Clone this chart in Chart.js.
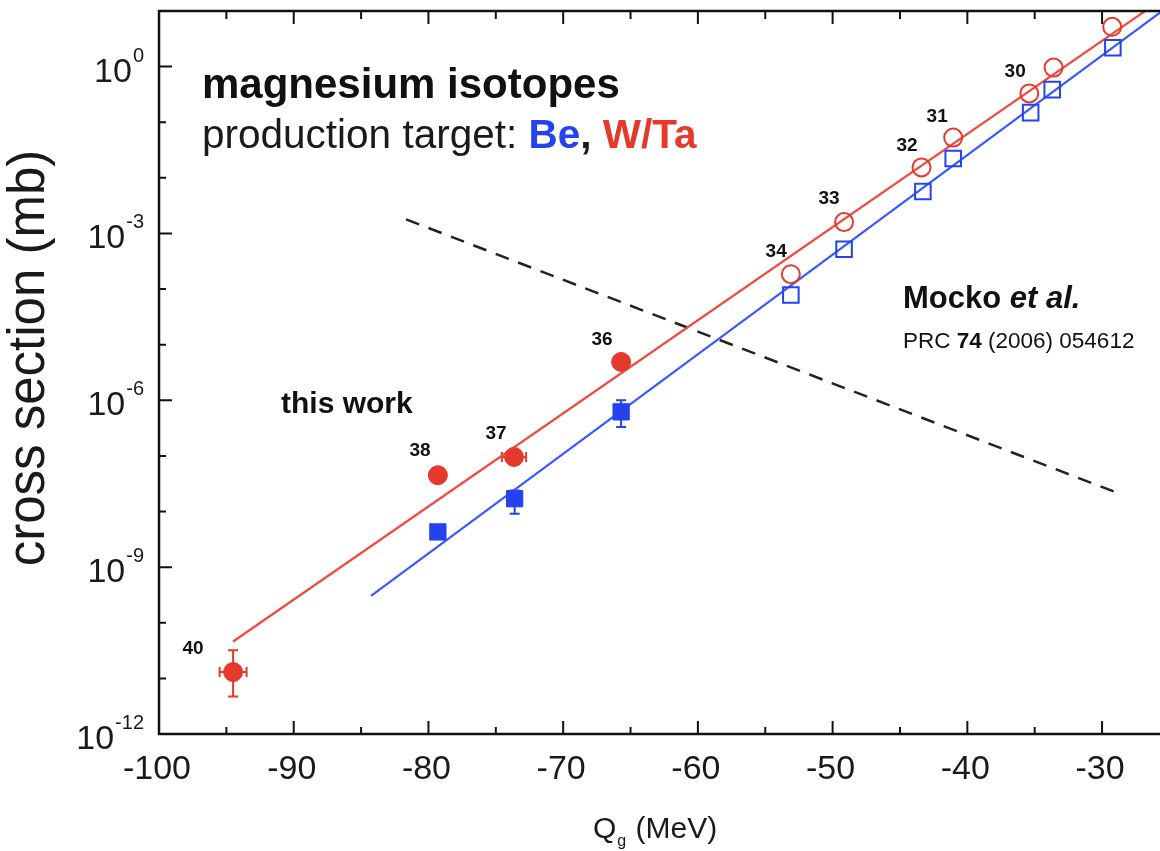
<!DOCTYPE html>
<html>
<head>
<meta charset="utf-8">
<script src="https://cdn.jsdelivr.net/npm/chart.js@4.4.1/dist/chart.umd.min.js"></script>
<style>
  html, body { margin: 0; padding: 0; background: #ffffff; }
  #wrap { width: 1160px; height: 851px; }
</style>
</head>
<body>
<div id="wrap"><canvas id="c" width="1160" height="851"></canvas></div>
<script>
// ---------------- data ----------------
// Mocko et al. (open symbols)
const qMockoWTa = [-29.25, -33.6, -35.4, -41.05, -43.4, -49.15, -53.1];
const sMockoWTa = [5.2, 0.96, 0.33, 0.053, 0.0154, 1.6e-3, 1.85e-4];
const qMockoBe  = [-29.2, -33.7, -35.3, -41.05, -43.3, -49.15, -53.1];
const sMockoBe  = [2.19, 0.386, 0.149, 0.0223, 5.7e-3, 5.2e-4, 7.8e-5];

// this work (filled symbols)
const qThisWTa   = [-65.7, -73.65, -79.3, -94.5];
const sThisWTa   = [4.9e-6, 9.6e-8, 4.5e-8, 1.3e-11];
const yLoThisWTa = [null, null, null, 4.7e-12];
const yHiThisWTa = [null, null, null, 3.2e-11];
const xErrThisWTa = [0, 0.9, 0, 1.0];

const qThisBe   = [-65.7, -73.6, -79.3];
const sThisBe   = [6.2e-7, 1.7e-8, 4.3e-9];
const yLoThisBe = [3.3e-7, 9.1e-9, null];
const yHiThisBe = [1.0e-6, 2.4e-8, null];

// systematics (fit lines) and Mocko trend (dashed)
const qFitWTa = [-94.5, -25];
const sFitWTa = [4.6e-11, 20];
const qFitBe  = [-84.26, -25];
const sFitBe  = [3.05e-10, 12.5];
const qTrend  = [-81.66, -28.66];
const sTrend  = [1.79e-3, 2.07e-8];

// isotope mass-number labels (anchor in data coordinates)
const isoMass = ['40', '38', '37', '36', '34', '33', '32', '31', '30'];
const isoQ    = [-97.48, -80.62, -74.98, -67.11, -54.19, -50.26, -44.47, -42.24, -36.45];
const isoLogS = [-10.557, -7.002, -6.697, -5.009, -3.429, -2.478, -1.526, -0.987, -0.180];

// axis ticks
const xMajorTicks = [-100, -90, -80, -70, -60, -50, -40, -30];
const xTickLabels = ['-100', '-90', '-80', '-70', '-60', '-50', '-40', '-30'];
const xMinorTicks = [-95, -85, -75, -65, -55, -45, -35];
const yMajorExps  = [0, -3, -6, -9, -12];
const yMinorExps  = [1, -1, -2, -4, -5, -7, -8, -10, -11];

// ---------------- styles ----------------
const RED = '#e5392b';
const BLUE = '#2443ef';
const RED_LINE = '#ef4a3f';
const BLUE_LINE = '#3a58ff';
const FONT = '"Liberation Sans", Arial, Helvetica, sans-serif';

const pts = (xs, ys) => xs.map((x, i) => ({ x: x, y: ys[i] }));

// ---------------- custom drawing plugin ----------------
const decor = {
  id: 'decor',
  beforeDatasetsDraw(chart) {
    const ctx = chart.ctx, xs = chart.scales.x, ys = chart.scales.y;
    const drawErr = (q, s, lo, hi, xe, color) => {
      ctx.save();
      ctx.strokeStyle = color;
      ctx.lineWidth = 2;
      const cap = 5;
      for (let i = 0; i < q.length; i++) {
        const px = xs.getPixelForValue(q[i]);
        const py = ys.getPixelForValue(s[i]);
        if (lo && lo[i] != null) {
          const p1 = ys.getPixelForValue(lo[i]);
          const p2 = ys.getPixelForValue(hi[i]);
          ctx.beginPath();
          ctx.moveTo(px, p1); ctx.lineTo(px, p2);
          ctx.moveTo(px - cap, p1); ctx.lineTo(px + cap, p1);
          ctx.moveTo(px - cap, p2); ctx.lineTo(px + cap, p2);
          ctx.stroke();
        }
        if (xe && xe[i]) {
          const x1 = xs.getPixelForValue(q[i] - xe[i]);
          const x2 = xs.getPixelForValue(q[i] + xe[i]);
          ctx.beginPath();
          ctx.moveTo(x1, py); ctx.lineTo(x2, py);
          ctx.moveTo(x1, py - cap); ctx.lineTo(x1, py + cap);
          ctx.moveTo(x2, py - cap); ctx.lineTo(x2, py + cap);
          ctx.stroke();
        }
      }
      ctx.restore();
    };
    drawErr(qThisWTa, sThisWTa, yLoThisWTa, yHiThisWTa, xErrThisWTa, RED);
    drawErr(qThisBe, sThisBe, yLoThisBe, yHiThisBe, null, BLUE);
  },
  afterDraw(chart) {
    const ctx = chart.ctx, xs = chart.scales.x, ys = chart.scales.y;
    const a = chart.chartArea;
    ctx.save();
    // frame
    ctx.strokeStyle = '#111';
    ctx.lineWidth = 2.5;
    ctx.beginPath();
    ctx.moveTo(chart.width + 5, a.top); ctx.lineTo(a.left, a.top);
    ctx.lineTo(a.left, a.bottom); ctx.lineTo(chart.width + 5, a.bottom);
    ctx.stroke();
    // ticks (inward)
    ctx.lineWidth = 2;
    ctx.beginPath();
    xMajorTicks.forEach(v => {
      const px = xs.getPixelForValue(v);
      ctx.moveTo(px, a.bottom); ctx.lineTo(px, a.bottom - 13);
      ctx.moveTo(px, a.top); ctx.lineTo(px, a.top + 13);
    });
    xMinorTicks.forEach(v => {
      const px = xs.getPixelForValue(v);
      ctx.moveTo(px, a.bottom); ctx.lineTo(px, a.bottom - 7);
      ctx.moveTo(px, a.top); ctx.lineTo(px, a.top + 8);
    });
    yMajorExps.forEach(e => {
      const py = ys.getPixelForValue(Math.pow(10, e));
      ctx.moveTo(a.left, py); ctx.lineTo(a.left + 13, py);
    });
    yMinorExps.forEach(e => {
      const py = ys.getPixelForValue(Math.pow(10, e));
      ctx.moveTo(a.left, py); ctx.lineTo(a.left + 7, py);
    });
    ctx.stroke();

    // x tick labels
    ctx.fillStyle = '#1a1a1a';
    ctx.font = '34px ' + FONT;
    ctx.textAlign = 'center';
    ctx.textBaseline = 'alphabetic';
    xMajorTicks.forEach((v, i) => {
      ctx.fillText(xTickLabels[i], xs.getPixelForValue(v) - 2, a.bottom + 45);
    });
    // y tick labels 10^e
    yMajorExps.forEach(e => {
      const py = ys.getPixelForValue(Math.pow(10, e));
      const right = a.left - 15;
      ctx.font = '20px ' + FONT;
      ctx.textAlign = 'right';
      const sup = String(e);
      const sw = ctx.measureText(sup).width;
      ctx.fillText(sup, right, py - 5);
      ctx.font = '34px ' + FONT;
      ctx.fillText('10', right - sw - 1, py + 15);
    });

    // x axis title: Q_g (MeV)
    ctx.textAlign = 'left';
    ctx.font = '30px ' + FONT;
    const xt = 593, yt = 838;
    ctx.fillText('Q', xt, yt);
    let w = ctx.measureText('Q').width;
    ctx.font = '16px ' + FONT;
    ctx.fillText('g', xt + w + 1, yt + 8);
    const wg = ctx.measureText('g').width;
    ctx.font = '30px ' + FONT;
    ctx.fillText(' (MeV)', xt + w + wg + 2, yt);

    // y axis title
    ctx.save();
    ctx.translate(44, 358);
    ctx.rotate(-Math.PI / 2);
    ctx.textAlign = 'center';
    ctx.font = '51px ' + FONT;
    ctx.fillText('cross section (mb)', 0, 0);
    ctx.restore();

    // headline text
    ctx.textAlign = 'left';
    ctx.fillStyle = '#111';
    ctx.font = 'bold 42px ' + FONT;
    ctx.fillText('magnesium isotopes', 202, 98);
    let x = 202;
    const parts = [
      ['production target: ', '40.5px ', '#1a1a1a'],
      ['Be', 'bold 40.5px ', BLUE],
      [', ', 'bold 40.5px ', '#1a1a1a'],
      ['W/Ta', 'bold 40.5px ', RED]
    ];
    parts.forEach(p => {
      ctx.font = p[1] + FONT;
      ctx.fillStyle = p[2];
      ctx.fillText(p[0], x, 148);
      x += ctx.measureText(p[0]).width;
    });

    // "this work"
    ctx.fillStyle = '#111';
    ctx.font = 'bold 30px ' + FONT;
    ctx.fillText('this work', 281, 413);

    // Mocko et al.
    ctx.font = 'bold 31px ' + FONT;
    ctx.fillText('Mocko ', 903, 308);
    let mw = ctx.measureText('Mocko ').width;
    ctx.font = 'italic bold 31px ' + FONT;
    ctx.fillText('et al.', 903 + mw, 308);
    // reference
    let rx = 903;
    const ref = [['PRC ', '22.5px '], ['74', 'bold 22.5px '], [' (2006) 054612', '22.5px ']];
    ref.forEach(r => {
      ctx.font = r[1] + FONT;
      ctx.fillText(r[0], rx, 348);
      rx += ctx.measureText(r[0]).width;
    });

    // isotope labels
    ctx.font = 'bold 19px ' + FONT;
    ctx.textAlign = 'center';
    isoMass.forEach((m, i) => {
      ctx.fillText(m, xs.getPixelForValue(isoQ[i]), ys.getPixelForValue(Math.pow(10, isoLogS[i])));
    });
    ctx.restore();
  }
};

new Chart(document.getElementById('c'), {
  type: 'scatter',
  data: {
    datasets: [
      { label: 'fit W/Ta', type: 'line', data: pts(qFitWTa, sFitWTa), borderColor: RED_LINE, borderWidth: 2.2, pointRadius: 0, fill: false, order: 10 },
      { label: 'fit Be', type: 'line', data: pts(qFitBe, sFitBe), borderColor: BLUE_LINE, borderWidth: 2.2, pointRadius: 0, fill: false, order: 10 },
      { label: 'Mocko trend', type: 'line', data: pts(qTrend, sTrend), borderColor: '#222', borderWidth: 2.5, borderDash: [14, 10], pointRadius: 0, fill: false, order: 10 },
      { label: 'Mocko W/Ta', data: pts(qMockoWTa, sMockoWTa), pointStyle: 'circle', pointRadius: 9, borderColor: RED, borderWidth: 2, backgroundColor: 'rgba(0,0,0,0)', showLine: false, order: 1 },
      { label: 'Mocko Be', data: pts(qMockoBe, sMockoBe), pointStyle: 'rect', pointRadius: 11, borderColor: BLUE, borderWidth: 2, backgroundColor: 'rgba(0,0,0,0)', showLine: false, order: 1 },
      { label: 'this work W/Ta', data: pts(qThisWTa, sThisWTa), pointStyle: 'circle', pointRadius: 9.5, borderColor: RED, borderWidth: 1, backgroundColor: RED, showLine: false, order: 1 },
      { label: 'this work Be', data: pts(qThisBe, sThisBe), pointStyle: 'rect', pointRadius: 11.5, borderColor: BLUE, borderWidth: 1, backgroundColor: BLUE, showLine: false, order: 1 }
    ]
  },
  options: {
    responsive: false,
    animation: false,
    events: [],
    layout: { autoPadding: false, padding: { top: 11, right: 0, left: 0, bottom: 0 } },
    plugins: { legend: { display: false }, tooltip: { enabled: false }, title: { display: false } },
    scales: {
      x: {
        type: 'linear', min: -100, max: -25.7,
        grid: { display: false }, border: { display: false },
        ticks: { display: false },
        afterFit(scale) { scale.height = 117; }
      },
      y: {
        type: 'logarithmic', min: 1e-12, max: 10,
        grid: { display: false }, border: { display: false },
        ticks: { display: false },
        afterFit(scale) { scale.width = 159; }
      }
    }
  },
  plugins: [decor]
});
</script>
</body>
</html>
